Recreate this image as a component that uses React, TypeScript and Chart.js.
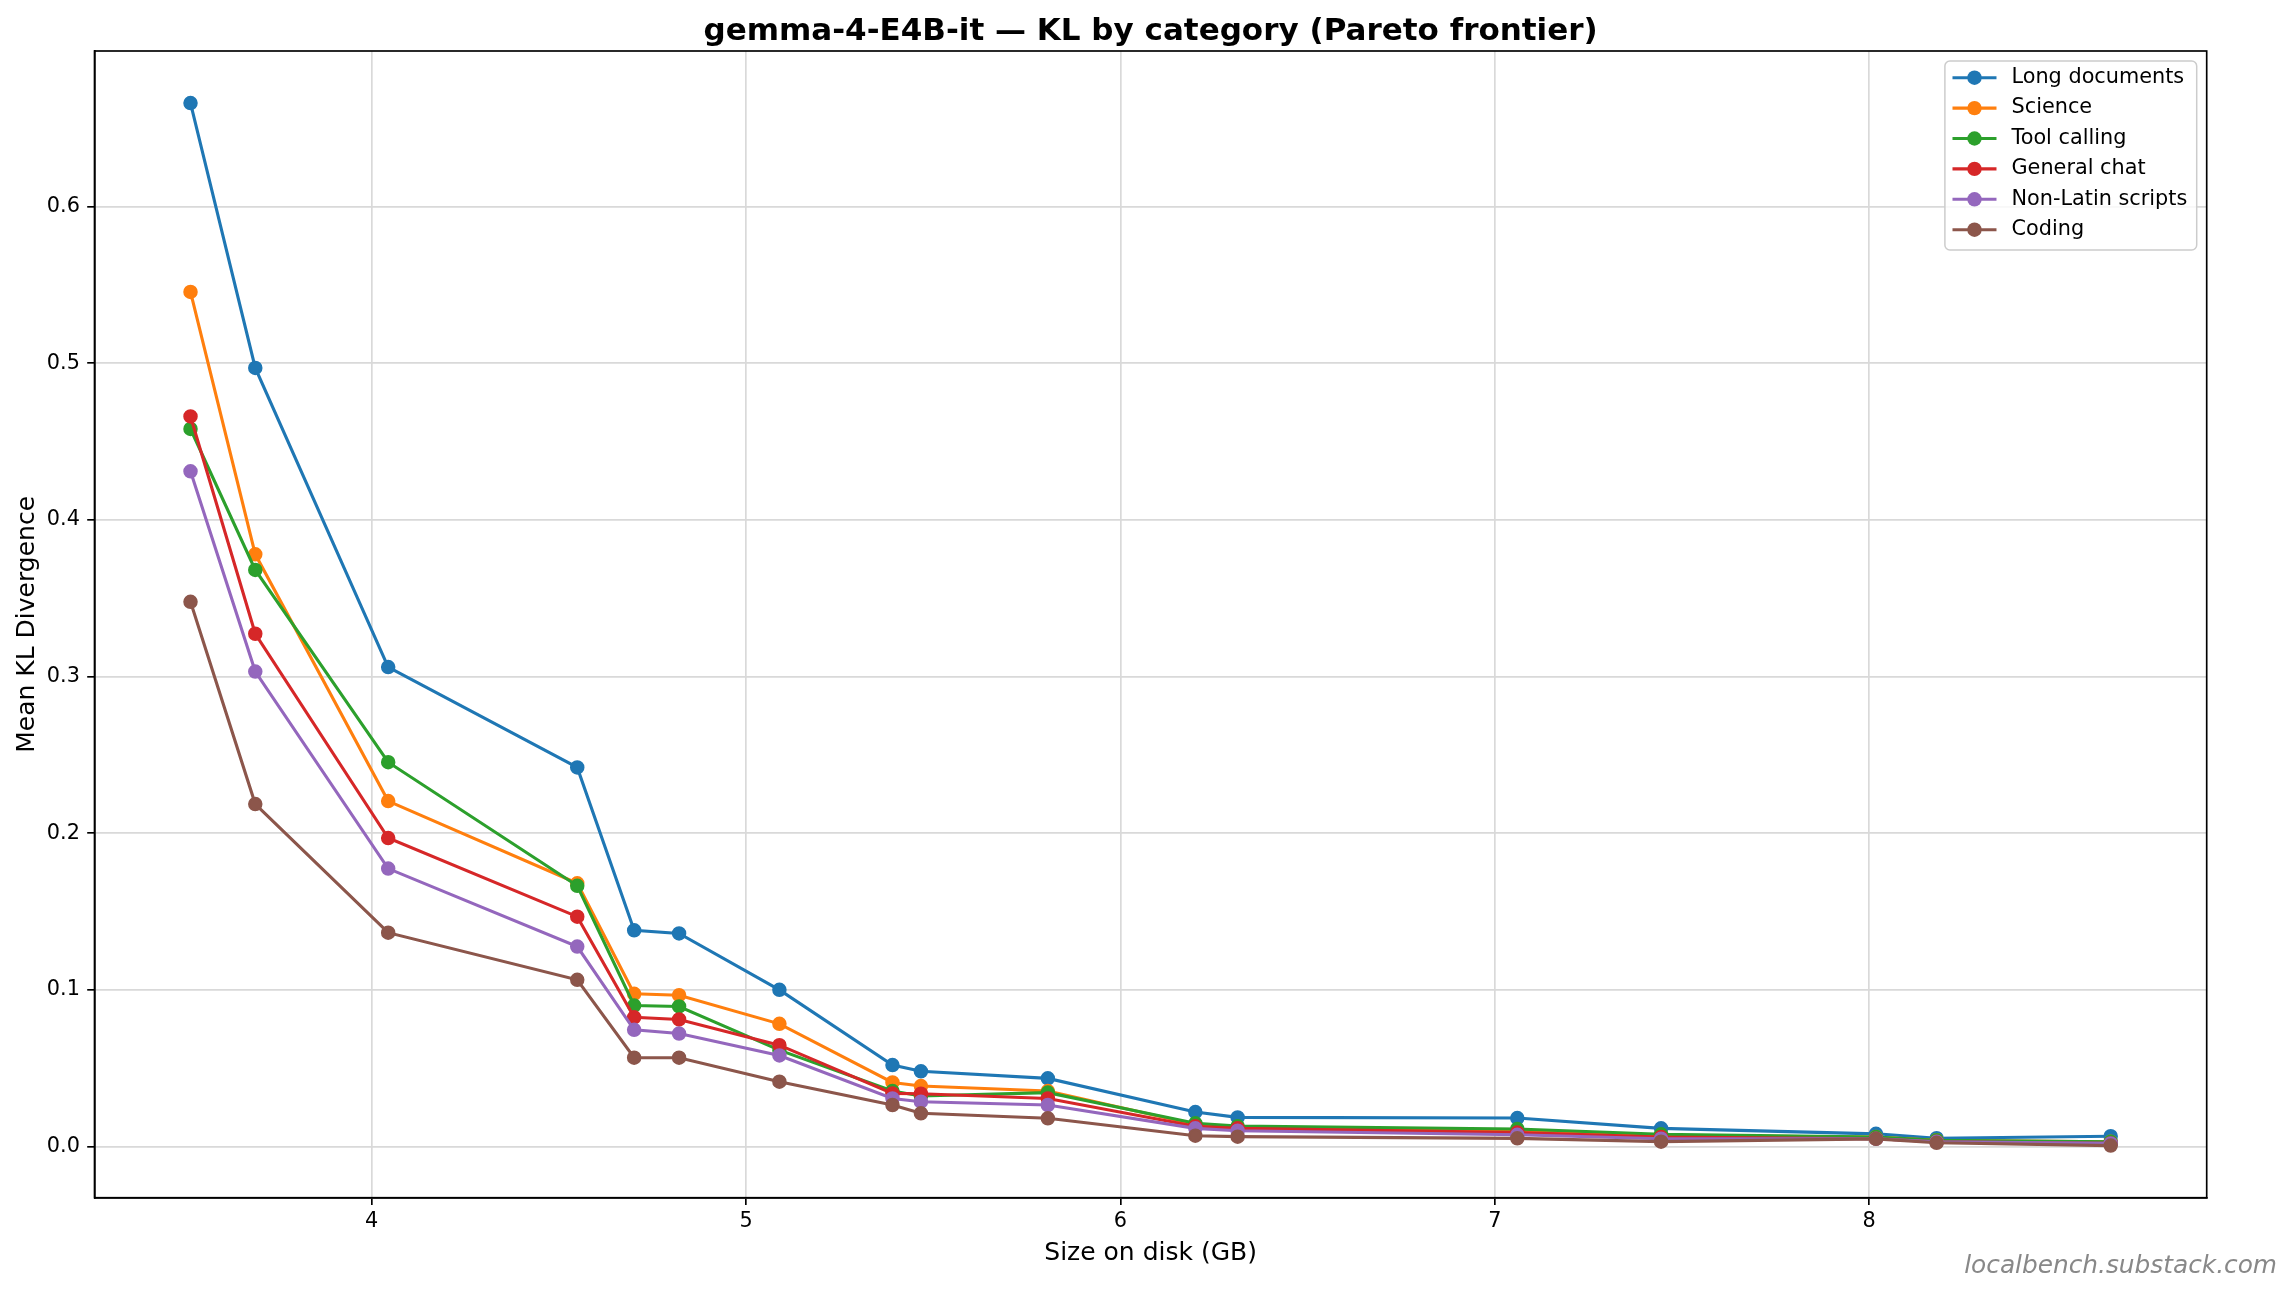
import { useEffect, useRef } from "react"
import { Chart, registerables } from "chart.js"
import type { ChartConfiguration, Plugin, Scale } from "chart.js"

Chart.register(...registerables)

// Model sizes on the Pareto frontier (GB)
const sizesGB = [3.516, 3.689, 4.044, 4.549, 4.701, 4.821, 5.089, 5.391, 5.467, 5.806, 6.2, 6.313, 7.06, 7.444, 8.018, 8.18, 8.645]

// Mean KL divergence per category
const longDocuments = [0.666, 0.497, 0.306, 0.242, 0.138, 0.136, 0.1, 0.052, 0.048, 0.0435, 0.022, 0.0186, 0.0182, 0.0116, 0.0081, 0.0053, 0.0066]
const science = [0.5455, 0.378, 0.2205, 0.168, 0.0975, 0.0966, 0.0783, 0.0409, 0.0386, 0.0354, 0.014, 0.012, 0.0101, 0.007, 0.006, 0.004, 0.003]
const toolCalling = [0.458, 0.368, 0.2453, 0.1664, 0.09, 0.0894, 0.0615, 0.0354, 0.0322, 0.0344, 0.0148, 0.013, 0.0112, 0.0078, 0.006, 0.004, 0.003]
const generalChat = [0.466, 0.3273, 0.1969, 0.1467, 0.0825, 0.0811, 0.0647, 0.0339, 0.0337, 0.0307, 0.0129, 0.0116, 0.0089, 0.006, 0.005, 0.003, 0.002]
const nonLatinScripts = [0.431, 0.3032, 0.1774, 0.1276, 0.0745, 0.0721, 0.0581, 0.0307, 0.0286, 0.0265, 0.0116, 0.0101, 0.0075, 0.005, 0.005, 0.003, 0.002]
const coding = [0.3477, 0.2186, 0.1365, 0.1064, 0.0567, 0.0567, 0.0414, 0.0265, 0.0212, 0.018, 0.0069, 0.0063, 0.0052, 0.0031, 0.0049, 0.0024, 0.0006]

const seriesNames = ["Long documents", "Science", "Tool calling", "General chat", "Non-Latin scripts", "Coding"]
const seriesValues = [longDocuments, science, toolCalling, generalChat, nonLatinScripts, coding]
const seriesColors = ["#1f77b4", "#ff7f0e", "#2ca02c", "#d62728", "#9467bd", "#8c564b"]

const xTickValues = [4, 5, 6, 7, 8]
const yTickValues = [0, 0.1, 0.2, 0.3, 0.4, 0.5, 0.6]

const chartTitle = "gemma-4-E4B-it — KL by category (Pareto frontier)"
const xAxisTitle = "Size on disk (GB)"
const yAxisTitle = "Mean KL Divergence"
const watermark = "localbench.substack.com"

const W = 2294
const H = 1294
const FONT = "'DejaVu Sans', sans-serif"

// matplotlib-style 5% margins around the data
const allY = seriesValues.flat()
const xMinData = Math.min(...sizesGB)
const xMaxData = Math.max(...sizesGB)
const yMinData = Math.min(...allY)
const yMaxData = Math.max(...allY)
const xPad = (xMaxData - xMinData) * 0.05
const yPad = (yMaxData - yMinData) * 0.05

const decorPlugin: Plugin<"line"> = {
  id: "decor",
  afterDraw(chart) {
    const { ctx, chartArea: a } = chart
    ctx.save()

    // spines
    ctx.strokeStyle = "#000"
    ctx.lineWidth = 1.67
    ctx.strokeRect(a.left, a.top, a.right - a.left, a.bottom - a.top)

    // legend
    ctx.font = `20.8px ${FONT}`
    const maxW = Math.max(...seriesNames.map((n) => ctx.measureText(n).width))
    const boxW = 8 + 44 + 15 + maxW + 9
    const boxH = 189
    const boxX = a.right - 10 - boxW
    const boxY = a.top + 10
    ctx.beginPath()
    ctx.roundRect(boxX, boxY, boxW, boxH, 5)
    ctx.fillStyle = "rgba(255,255,255,0.8)"
    ctx.fill()
    ctx.strokeStyle = "#cccccc"
    ctx.lineWidth = 1.5
    ctx.stroke()
    seriesNames.forEach((name, i) => {
      const cy = boxY + 16.7 + i * 30.4
      const lx = boxX + 7.6
      ctx.strokeStyle = seriesColors[i]
      ctx.lineWidth = 3.1
      ctx.beginPath()
      ctx.moveTo(lx, cy)
      ctx.lineTo(lx + 44, cy)
      ctx.stroke()
      ctx.fillStyle = seriesColors[i]
      ctx.beginPath()
      ctx.arc(lx + 22, cy, 7.2, 0, Math.PI * 2)
      ctx.fill()
      ctx.fillStyle = "#000"
      ctx.textAlign = "left"
      ctx.textBaseline = "middle"
      ctx.fillText(name, lx + 59, cy)
    })

    // title
    ctx.fillStyle = "#000"
    ctx.font = `bold 31px ${FONT}`
    ctx.textAlign = "center"
    ctx.textBaseline = "alphabetic"
    ctx.fillText(chartTitle, (a.left + a.right) / 2, 40)

    // axis titles
    ctx.font = `25px ${FONT}`
    ctx.fillText(xAxisTitle, (a.left + a.right) / 2, 1260)
    ctx.save()
    ctx.translate(33.5, (a.top + a.bottom) / 2)
    ctx.rotate(-Math.PI / 2)
    ctx.fillText(yAxisTitle, 0, 0)
    ctx.restore()

    // watermark
    ctx.font = `italic 24.8px ${FONT}`
    ctx.fillStyle = "#888888"
    ctx.textAlign = "right"
    ctx.fillText(watermark, 2277, 1273)

    ctx.restore()
  },
}

export default function App() {
  const canvasRef = useRef<HTMLCanvasElement>(null)

  useEffect(() => {
    if (!canvasRef.current) return

    Chart.defaults.font.family = FONT
    Chart.defaults.color = "#000"

    const n = seriesNames.length
    const config: ChartConfiguration<"line"> = {
      type: "line",
      data: {
        datasets: seriesNames.map((name, i) => ({
          label: name,
          data: sizesGB.map((x, j) => ({ x, y: seriesValues[i][j] })),
          borderColor: seriesColors[i],
          backgroundColor: seriesColors[i],
          borderWidth: 3.1,
          pointRadius: 6.25,
          pointBorderWidth: 2,
          pointBackgroundColor: seriesColors[i],
          pointBorderColor: seriesColors[i],
          tension: 0,
          order: n - 1 - i, // later series on top, like matplotlib
        })),
      },
      options: {
        animation: false,
        responsive: true,
        maintainAspectRatio: false,
        events: [],
        layout: { padding: { left: 0, top: 51, right: W - 2206.7, bottom: 0 } },
        plugins: {
          legend: { display: false },
          title: { display: false },
          tooltip: { enabled: false },
        },
        scales: {
          x: {
            type: "linear",
            min: xMinData - xPad,
            max: xMaxData + xPad,
            afterBuildTicks: (axis: Scale) => {
              axis.ticks = xTickValues.map((value) => ({ value }))
            },
            afterFit: (axis: Scale) => {
              axis.height = H - 1197.7
            },
            grid: { color: "#d9d9d9", lineWidth: 1.67, tickColor: "#000", tickLength: 7.3, tickWidth: 1.67 },
            border: { color: "#000", width: 1.67 },
            ticks: {
              color: "#000",
              font: { size: 20.8 },
              padding: 4,
              autoSkip: false,
              maxRotation: 0,
              callback: (v) => String(v),
            },
          },
          y: {
            type: "linear",
            min: yMinData - yPad,
            max: yMaxData + yPad,
            afterBuildTicks: (axis: Scale) => {
              axis.ticks = yTickValues.map((value) => ({ value }))
            },
            afterFit: (axis: Scale) => {
              axis.width = 94.5
            },
            grid: { color: "#d9d9d9", lineWidth: 1.67, tickColor: "#000", tickLength: 7.3, tickWidth: 1.67 },
            border: { color: "#000", width: 1.67 },
            ticks: {
              color: "#000",
              font: { size: 20.8 },
              padding: 7.3,
              autoSkip: false,
              callback: (v) => Number(v).toFixed(1),
            },
          },
        },
      },
      plugins: [decorPlugin],
    }

    const chart = new Chart(canvasRef.current, config)
    return () => chart.destroy()
  }, [])

  return (
    <div style={{ position: "absolute", left: 0, top: 0, width: W, height: H, background: "#fff" }}>
      <canvas ref={canvasRef} aria-label="KL by category chart"></canvas>
    </div>
  )
}
